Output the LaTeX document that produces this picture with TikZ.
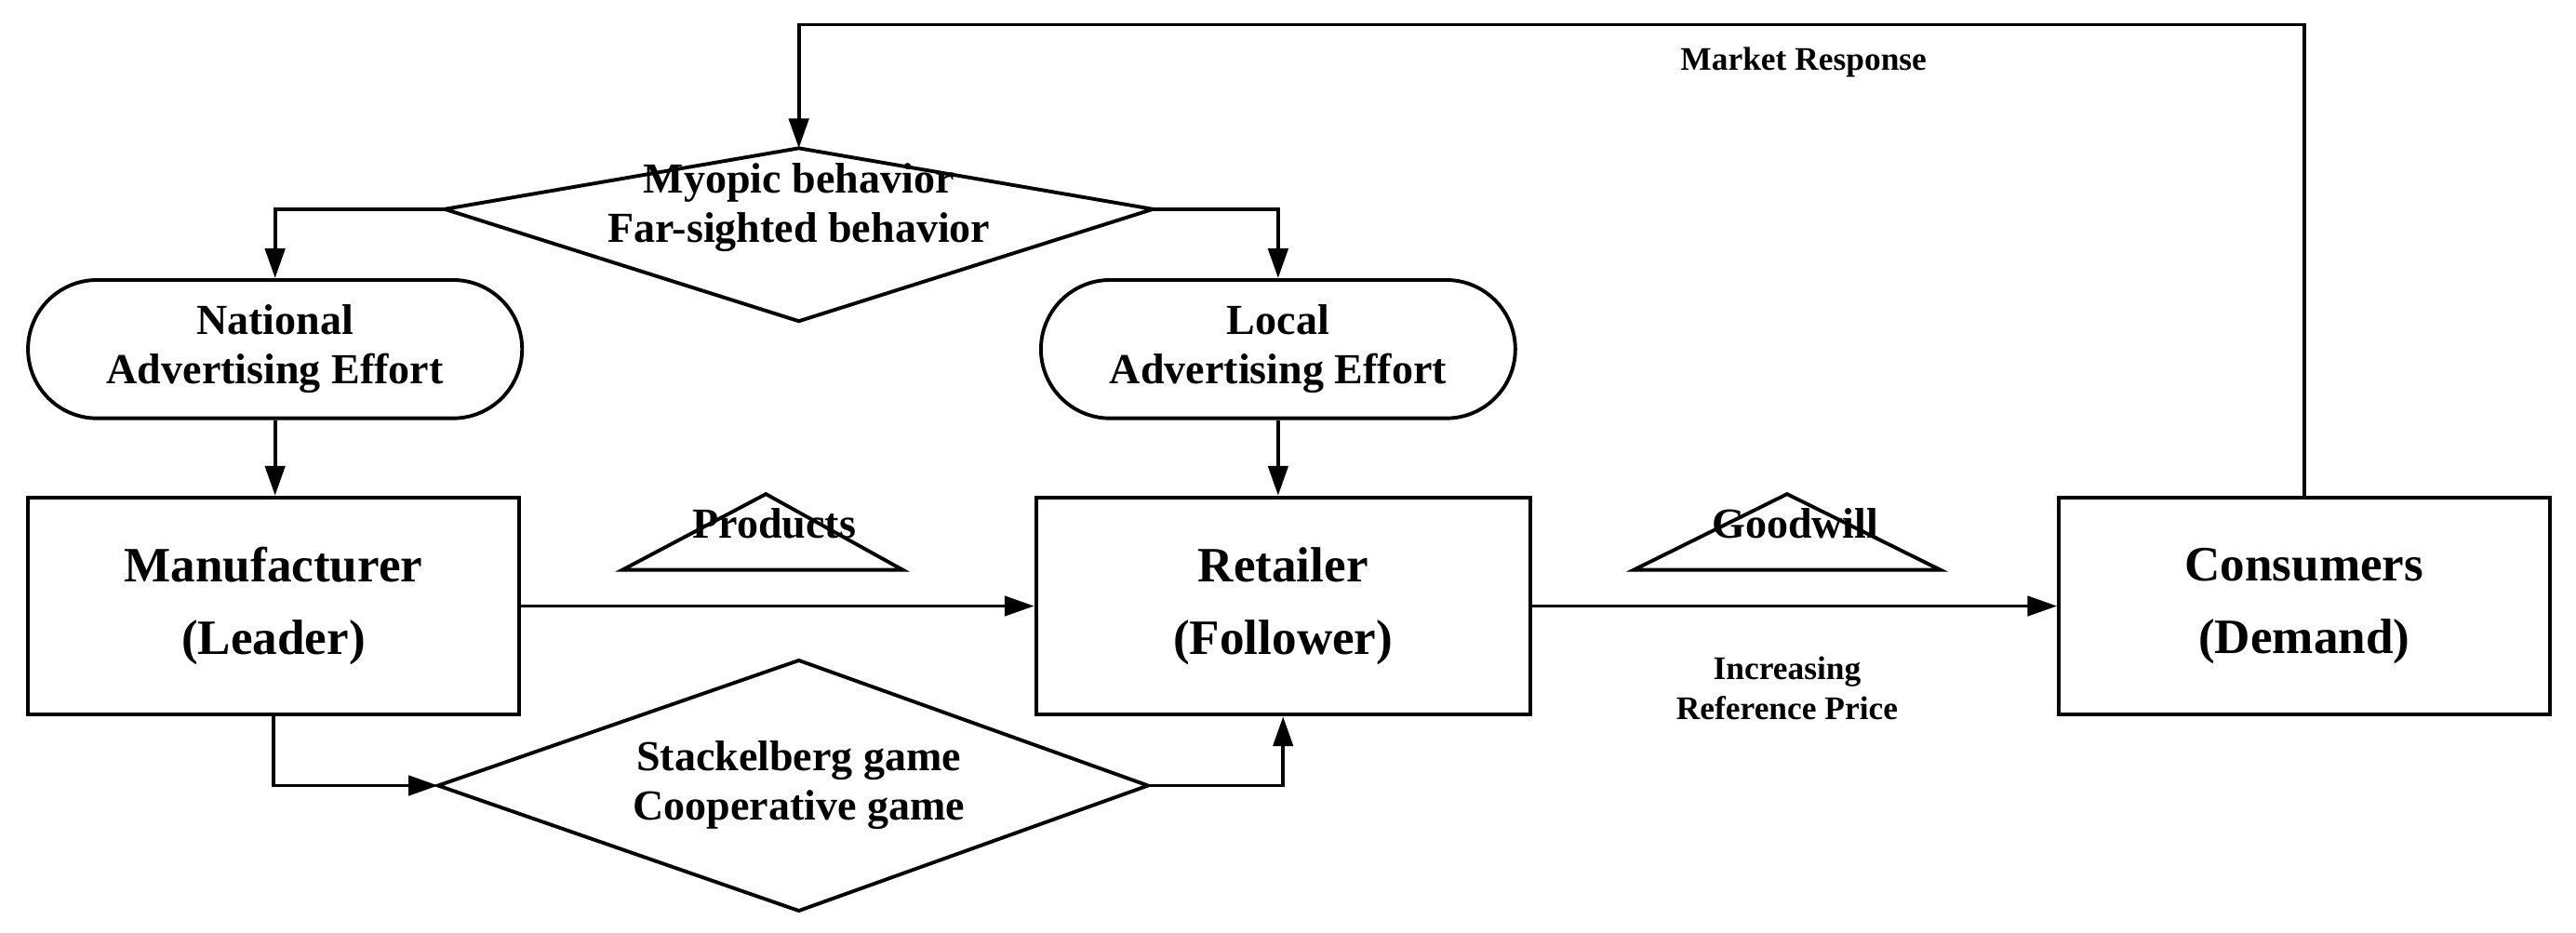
\documentclass[tikz,border=0pt]{standalone}
\usepackage{fontspec}
\setmainfont{Liberation Serif}
\usetikzlibrary{arrows.meta}
\begin{document}
\begin{tikzpicture}[x=0.5pt,y=-0.5pt,
  line width=1.1pt,
  arr/.style={-{Triangle[length=9pt,width=6pt]}},
  big/.style={font=\fontsize{15}{22}\selectfont\bfseries,align=center},
  mid/.style={font=\fontsize{13}{15}\selectfont\bfseries,align=center},
  sm/.style={font=\fontsize{10}{12}\selectfont\bfseries,align=center},
  box/.style={draw,big,minimum width=149pt,minimum height=66pt},
  stad/.style={draw,mid,rounded corners=21pt,minimum width=150pt,minimum height=42pt,inner sep=1pt}]
\useasboundingbox (0,0) rectangle (1564,566);
\node[box] (man) at (166,368) {Manufacturer\\(Leader)};
\node[box,minimum width=150pt] (ret) at (779,368) {Retailer\\(Follower)};
\node[box] (con) at (1399,368) {Consumers\\(Demand)};
\node[stad] (nat) at (167,212) {National\\Advertising Effort};
\node[stad,minimum width=144pt] (loc) at (776,212) {Local\\Advertising Effort};
% top diamond
\coordinate (tdT) at (485,90); \coordinate (tdL) at (270,127);
\coordinate (tdR) at (700,127); \coordinate (tdB) at (485,195);
\draw (tdT)--(tdR)--(tdB)--(tdL)--cycle;
\node[mid] (td) at (485,126) {Myopic behavior\\Far-sighted behavior};
% bottom diamond
\coordinate (bdT) at (485,401); \coordinate (bdL) at (266,477);
\coordinate (bdR) at (697,477); \coordinate (bdB) at (485,553);
\draw (bdT)--(bdR)--(bdB)--(bdL)--cycle;
\node[mid] (bd) at (485,477) {Stackelberg game\\Cooperative game};
% triangles
\draw (465,300)--(548,346)--(378,346)--cycle;
\node[mid] (prod) at (470,318) {Products};
\draw (1085,300)--(1178,346)--(992,346)--cycle;
\node[mid] (good) at (1090,318) {Goodwill};
% arrows
\draw[arr] (man.east) -- (ret.west);
\draw[arr] (ret.east) -- (con.west);
\node[sm] (irp) at (1085,418) {Increasing\\Reference Price};
\draw[arr] (con.north) -- (con.north|-0,15) -- (485,15) -- (tdT);
\node[sm] (mr) at (1095,38) {Market Response};
\draw[arr] (tdL) -- (nat.north|-tdL) -- (nat.north);
\draw[arr] (tdR) -- (loc.north|-tdR) -- (loc.north);
\draw[arr] (nat.south) -- (man.north-|nat.south);
\draw[arr] (loc.south) -- (ret.north-|loc.south);
\draw[arr] (man.south) -- (man.south|-bdL) -- (bdL);
\draw[arr] (bdR) -- (ret.south|-bdR) -- (ret.south);
\end{tikzpicture}
\end{document}
